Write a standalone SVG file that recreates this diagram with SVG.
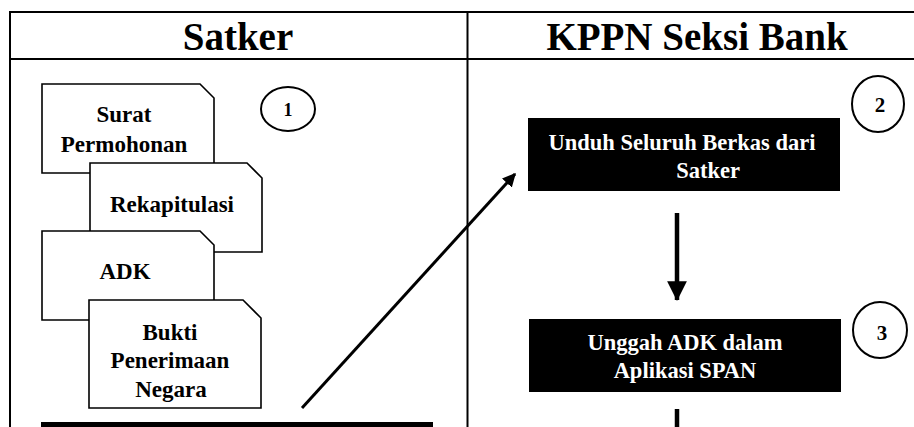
<svg xmlns="http://www.w3.org/2000/svg" width="914" height="427" viewBox="0 0 914 427">
  <defs>
    <style>
      .frame { stroke: #000; stroke-width: 2; fill: none; }
      .doc { fill: #fff; stroke: #000; stroke-width: 1.6; }
      .t { font-family: "Liberation Serif", "Times New Roman", serif; font-weight: bold; text-anchor: middle; fill: #000; }
      .head { font-size: 39px; }
      .dt { font-size: 23px; }
      .bt { font-size: 22.5px; fill: #fff; }
      .num { font-size: 21px; }
      .box { fill: #000; }
      .badge { fill: #fff; stroke: #000; stroke-width: 2; }
      .conn { stroke: #000; fill: none; }
    </style>
    <marker id="head-sm" viewBox="0 0 10 10" refX="9" refY="5" markerWidth="4.5" markerHeight="4.5" orient="auto" markerUnits="strokeWidth">
      <path d="M0,0 L10,5 L0,10 z" fill="#000"/>
    </marker>
    <marker id="head-lg" viewBox="0 0 10 10" refX="9.5" refY="5" markerWidth="4.4" markerHeight="4.6" orient="auto" markerUnits="strokeWidth">
      <path d="M0,0 L10,5 L0,10 z" fill="#000"/>
    </marker>
  </defs>

  <rect width="914" height="427" fill="#fff"/>

  <!-- table frame -->
  <g id="frame">
    <line class="frame" x1="9" y1="12" x2="914" y2="12"/>
    <line class="frame" x1="9" y1="59" x2="914" y2="59"/>
    <line class="frame" x1="10" y1="11" x2="10" y2="427" stroke-width="1.6"/>
    <line class="frame" x1="467.5" y1="11" x2="467.5" y2="427" stroke-width="1.6"/>
    <text class="t head" x="238" y="50">Satker</text>
    <text class="t head" x="697" y="50">KPPN Seksi Bank</text>
  </g>

  <!-- documents submitted by the work unit -->
  <g id="doc-surat">
    <path class="doc" d="M42,84 H200 L214,98 V173 H42 Z"/>
    <text class="t dt" x="124" y="122">Surat</text>
    <text class="t dt" x="124" y="152">Permohonan</text>
  </g>
  <g id="doc-rekap">
    <path class="doc" d="M90,163 H247 L262,178 V252 H90 Z"/>
    <text class="t dt" x="172" y="212">Rekapitulasi</text>
  </g>
  <g id="doc-adk">
    <path class="doc" d="M42,231 H200 L214,245 V320 H42 Z"/>
    <text class="t dt" x="125" y="279">ADK</text>
  </g>
  <g id="doc-bukti">
    <path class="doc" d="M89,300 H243 L261,318 V408 H89 Z"/>
    <text class="t dt" x="170" y="340">Bukti</text>
    <text class="t dt" x="170" y="368">Penerimaan</text>
    <text class="t dt" x="171" y="397">Negara</text>
  </g>
  <g id="step-1">
    <ellipse class="badge" cx="288" cy="109" rx="27" ry="22"/>
    <text class="t" x="288" y="116" font-size="18">1</text>
  </g>
  <g id="satker-bar">
    <rect class="box" x="41" y="422" width="392" height="10"/>
  </g>

  <!-- bank section steps -->
  <g id="step-unduh">
    <rect class="box" x="528" y="118" width="312" height="73"/>
    <text class="t bt" x="682" y="150">Unduh Seluruh Berkas dari</text>
    <text class="t bt" x="708" y="178">Satker</text>
  </g>
  <g id="step-2">
    <ellipse class="badge" cx="878" cy="104" rx="26" ry="28"/>
    <text class="t num" x="880" y="112">2</text>
  </g>
  <g id="step-unggah">
    <rect class="box" x="529" y="319" width="312" height="73"/>
    <text class="t bt" x="685" y="350">Unggah ADK dalam</text>
    <text class="t bt" x="685" y="378">Aplikasi SPAN</text>
  </g>
  <g id="step-3">
    <ellipse class="badge" cx="880" cy="330" rx="27" ry="28"/>
    <text class="t num" x="882" y="340">3</text>
  </g>

  <!-- connectors -->
  <g id="connectors">
    <line class="conn" x1="302" y1="408" x2="515" y2="174" stroke-width="3" marker-end="url(#head-sm)"/>
    <line class="conn" x1="677" y1="213" x2="677" y2="300" stroke-width="4.5" marker-end="url(#head-lg)"/>
    <line class="conn" x1="677" y1="409" x2="677" y2="430" stroke-width="4.5"/>
  </g>
</svg>
